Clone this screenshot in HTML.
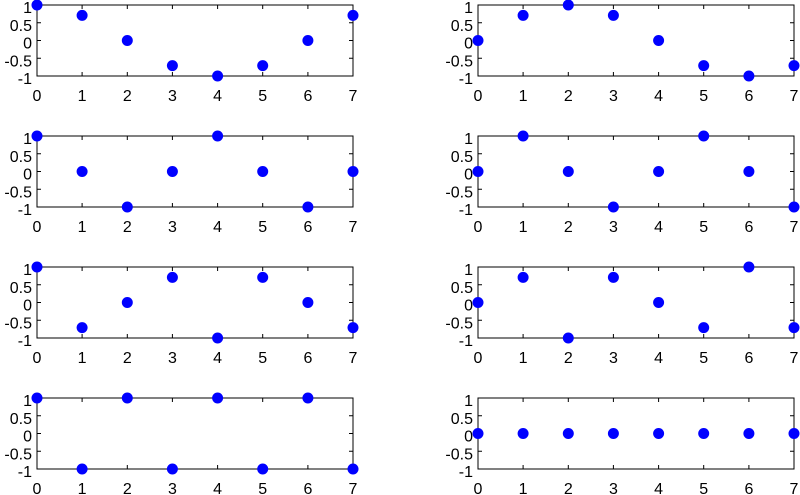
<!DOCTYPE html>
<html><head><meta charset="utf-8"><style>
html,body{margin:0;padding:0;background:#fff}
svg{display:block}
text{font-family:"Liberation Sans",sans-serif;font-size:16px;fill:#000}
.f{fill:none;stroke:#000;stroke-width:1}
.t{stroke:#000;stroke-width:1}
circle{fill:#0000ff}
</style></head><body>
<svg width="800" height="495" viewBox="0 0 800 495" xmlns="http://www.w3.org/2000/svg">

<g transform="translate(37,5)">
<rect class="f" x="0" y="0" width="316" height="71"/>
<path class="t" d="M45.1 71v-4M90.3 71v-4M135.4 71v-4M180.6 71v-4M225.7 71v-4M270.9 71v-4M45.1 0v4M90.3 0v4M135.4 0v4M180.6 0v4M225.7 0v4M270.9 0v4M0 17.75h4M0 35.5h4M0 53.25h4M316 17.75h-4M316 35.5h-4M316 53.25h-4"/>
<g text-anchor="end"><text x="-5" y="8">1</text><text x="-5" y="25.75">0.5</text><text x="-5" y="43.5">0</text><text x="-5" y="61.25">-0.5</text><text x="-5" y="79">-1</text></g>
<g text-anchor="middle"><text x="0" y="96">0</text><text x="45.1" y="96">1</text><text x="90.3" y="96">2</text><text x="135.4" y="96">3</text><text x="180.6" y="96">4</text><text x="225.7" y="96">5</text><text x="270.9" y="96">6</text><text x="316" y="96">7</text></g>
<circle cx="0" cy="0" r="5.5"/><circle cx="45.1" cy="10.4" r="5.5"/><circle cx="90.3" cy="35.5" r="5.5"/><circle cx="135.4" cy="60.6" r="5.5"/><circle cx="180.6" cy="71" r="5.5"/><circle cx="225.7" cy="60.6" r="5.5"/><circle cx="270.9" cy="35.5" r="5.5"/><circle cx="316" cy="10.4" r="5.5"/>
</g>

<g transform="translate(478,5)">
<rect class="f" x="0" y="0" width="316" height="71"/>
<path class="t" d="M45.1 71v-4M90.3 71v-4M135.4 71v-4M180.6 71v-4M225.7 71v-4M270.9 71v-4M45.1 0v4M90.3 0v4M135.4 0v4M180.6 0v4M225.7 0v4M270.9 0v4M0 17.75h4M0 35.5h4M0 53.25h4M316 17.75h-4M316 35.5h-4M316 53.25h-4"/>
<g text-anchor="end"><text x="-5" y="8">1</text><text x="-5" y="25.75">0.5</text><text x="-5" y="43.5">0</text><text x="-5" y="61.25">-0.5</text><text x="-5" y="79">-1</text></g>
<g text-anchor="middle"><text x="0" y="96">0</text><text x="45.1" y="96">1</text><text x="90.3" y="96">2</text><text x="135.4" y="96">3</text><text x="180.6" y="96">4</text><text x="225.7" y="96">5</text><text x="270.9" y="96">6</text><text x="316" y="96">7</text></g>
<circle cx="0" cy="35.5" r="5.5"/><circle cx="45.1" cy="10.4" r="5.5"/><circle cx="90.3" cy="0" r="5.5"/><circle cx="135.4" cy="10.4" r="5.5"/><circle cx="180.6" cy="35.5" r="5.5"/><circle cx="225.7" cy="60.6" r="5.5"/><circle cx="270.9" cy="71" r="5.5"/><circle cx="316" cy="60.6" r="5.5"/>
</g>

<g transform="translate(37,136)">
<rect class="f" x="0" y="0" width="316" height="71"/>
<path class="t" d="M45.1 71v-4M90.3 71v-4M135.4 71v-4M180.6 71v-4M225.7 71v-4M270.9 71v-4M45.1 0v4M90.3 0v4M135.4 0v4M180.6 0v4M225.7 0v4M270.9 0v4M0 17.75h4M0 35.5h4M0 53.25h4M316 17.75h-4M316 35.5h-4M316 53.25h-4"/>
<g text-anchor="end"><text x="-5" y="8">1</text><text x="-5" y="25.75">0.5</text><text x="-5" y="43.5">0</text><text x="-5" y="61.25">-0.5</text><text x="-5" y="79">-1</text></g>
<g text-anchor="middle"><text x="0" y="96">0</text><text x="45.1" y="96">1</text><text x="90.3" y="96">2</text><text x="135.4" y="96">3</text><text x="180.6" y="96">4</text><text x="225.7" y="96">5</text><text x="270.9" y="96">6</text><text x="316" y="96">7</text></g>
<circle cx="0" cy="0" r="5.5"/><circle cx="45.1" cy="35.5" r="5.5"/><circle cx="90.3" cy="71" r="5.5"/><circle cx="135.4" cy="35.5" r="5.5"/><circle cx="180.6" cy="0" r="5.5"/><circle cx="225.7" cy="35.5" r="5.5"/><circle cx="270.9" cy="71" r="5.5"/><circle cx="316" cy="35.5" r="5.5"/>
</g>

<g transform="translate(478,136)">
<rect class="f" x="0" y="0" width="316" height="71"/>
<path class="t" d="M45.1 71v-4M90.3 71v-4M135.4 71v-4M180.6 71v-4M225.7 71v-4M270.9 71v-4M45.1 0v4M90.3 0v4M135.4 0v4M180.6 0v4M225.7 0v4M270.9 0v4M0 17.75h4M0 35.5h4M0 53.25h4M316 17.75h-4M316 35.5h-4M316 53.25h-4"/>
<g text-anchor="end"><text x="-5" y="8">1</text><text x="-5" y="25.75">0.5</text><text x="-5" y="43.5">0</text><text x="-5" y="61.25">-0.5</text><text x="-5" y="79">-1</text></g>
<g text-anchor="middle"><text x="0" y="96">0</text><text x="45.1" y="96">1</text><text x="90.3" y="96">2</text><text x="135.4" y="96">3</text><text x="180.6" y="96">4</text><text x="225.7" y="96">5</text><text x="270.9" y="96">6</text><text x="316" y="96">7</text></g>
<circle cx="0" cy="35.5" r="5.5"/><circle cx="45.1" cy="0" r="5.5"/><circle cx="90.3" cy="35.5" r="5.5"/><circle cx="135.4" cy="71" r="5.5"/><circle cx="180.6" cy="35.5" r="5.5"/><circle cx="225.7" cy="0" r="5.5"/><circle cx="270.9" cy="35.5" r="5.5"/><circle cx="316" cy="71" r="5.5"/>
</g>

<g transform="translate(37,267)">
<rect class="f" x="0" y="0" width="316" height="71"/>
<path class="t" d="M45.1 71v-4M90.3 71v-4M135.4 71v-4M180.6 71v-4M225.7 71v-4M270.9 71v-4M45.1 0v4M90.3 0v4M135.4 0v4M180.6 0v4M225.7 0v4M270.9 0v4M0 17.75h4M0 35.5h4M0 53.25h4M316 17.75h-4M316 35.5h-4M316 53.25h-4"/>
<g text-anchor="end"><text x="-5" y="8">1</text><text x="-5" y="25.75">0.5</text><text x="-5" y="43.5">0</text><text x="-5" y="61.25">-0.5</text><text x="-5" y="79">-1</text></g>
<g text-anchor="middle"><text x="0" y="96">0</text><text x="45.1" y="96">1</text><text x="90.3" y="96">2</text><text x="135.4" y="96">3</text><text x="180.6" y="96">4</text><text x="225.7" y="96">5</text><text x="270.9" y="96">6</text><text x="316" y="96">7</text></g>
<circle cx="0" cy="0" r="5.5"/><circle cx="45.1" cy="60.6" r="5.5"/><circle cx="90.3" cy="35.5" r="5.5"/><circle cx="135.4" cy="10.4" r="5.5"/><circle cx="180.6" cy="71" r="5.5"/><circle cx="225.7" cy="10.4" r="5.5"/><circle cx="270.9" cy="35.5" r="5.5"/><circle cx="316" cy="60.6" r="5.5"/>
</g>

<g transform="translate(478,267)">
<rect class="f" x="0" y="0" width="316" height="71"/>
<path class="t" d="M45.1 71v-4M90.3 71v-4M135.4 71v-4M180.6 71v-4M225.7 71v-4M270.9 71v-4M45.1 0v4M90.3 0v4M135.4 0v4M180.6 0v4M225.7 0v4M270.9 0v4M0 17.75h4M0 35.5h4M0 53.25h4M316 17.75h-4M316 35.5h-4M316 53.25h-4"/>
<g text-anchor="end"><text x="-5" y="8">1</text><text x="-5" y="25.75">0.5</text><text x="-5" y="43.5">0</text><text x="-5" y="61.25">-0.5</text><text x="-5" y="79">-1</text></g>
<g text-anchor="middle"><text x="0" y="96">0</text><text x="45.1" y="96">1</text><text x="90.3" y="96">2</text><text x="135.4" y="96">3</text><text x="180.6" y="96">4</text><text x="225.7" y="96">5</text><text x="270.9" y="96">6</text><text x="316" y="96">7</text></g>
<circle cx="0" cy="35.5" r="5.5"/><circle cx="45.1" cy="10.4" r="5.5"/><circle cx="90.3" cy="71" r="5.5"/><circle cx="135.4" cy="10.4" r="5.5"/><circle cx="180.6" cy="35.5" r="5.5"/><circle cx="225.7" cy="60.6" r="5.5"/><circle cx="270.9" cy="0" r="5.5"/><circle cx="316" cy="60.6" r="5.5"/>
</g>

<g transform="translate(37,398)">
<rect class="f" x="0" y="0" width="316" height="71"/>
<path class="t" d="M45.1 71v-4M90.3 71v-4M135.4 71v-4M180.6 71v-4M225.7 71v-4M270.9 71v-4M45.1 0v4M90.3 0v4M135.4 0v4M180.6 0v4M225.7 0v4M270.9 0v4M0 17.75h4M0 35.5h4M0 53.25h4M316 17.75h-4M316 35.5h-4M316 53.25h-4"/>
<g text-anchor="end"><text x="-5" y="8">1</text><text x="-5" y="25.75">0.5</text><text x="-5" y="43.5">0</text><text x="-5" y="61.25">-0.5</text><text x="-5" y="79">-1</text></g>
<g text-anchor="middle"><text x="0" y="96">0</text><text x="45.1" y="96">1</text><text x="90.3" y="96">2</text><text x="135.4" y="96">3</text><text x="180.6" y="96">4</text><text x="225.7" y="96">5</text><text x="270.9" y="96">6</text><text x="316" y="96">7</text></g>
<circle cx="0" cy="0" r="5.5"/><circle cx="45.1" cy="71" r="5.5"/><circle cx="90.3" cy="0" r="5.5"/><circle cx="135.4" cy="71" r="5.5"/><circle cx="180.6" cy="0" r="5.5"/><circle cx="225.7" cy="71" r="5.5"/><circle cx="270.9" cy="0" r="5.5"/><circle cx="316" cy="71" r="5.5"/>
</g>

<g transform="translate(478,398)">
<rect class="f" x="0" y="0" width="316" height="71"/>
<path class="t" d="M45.1 71v-4M90.3 71v-4M135.4 71v-4M180.6 71v-4M225.7 71v-4M270.9 71v-4M45.1 0v4M90.3 0v4M135.4 0v4M180.6 0v4M225.7 0v4M270.9 0v4M0 17.75h4M0 35.5h4M0 53.25h4M316 17.75h-4M316 35.5h-4M316 53.25h-4"/>
<g text-anchor="end"><text x="-5" y="8">1</text><text x="-5" y="25.75">0.5</text><text x="-5" y="43.5">0</text><text x="-5" y="61.25">-0.5</text><text x="-5" y="79">-1</text></g>
<g text-anchor="middle"><text x="0" y="96">0</text><text x="45.1" y="96">1</text><text x="90.3" y="96">2</text><text x="135.4" y="96">3</text><text x="180.6" y="96">4</text><text x="225.7" y="96">5</text><text x="270.9" y="96">6</text><text x="316" y="96">7</text></g>
<circle cx="0" cy="35.5" r="5.5"/><circle cx="45.1" cy="35.5" r="5.5"/><circle cx="90.3" cy="35.5" r="5.5"/><circle cx="135.4" cy="35.5" r="5.5"/><circle cx="180.6" cy="35.5" r="5.5"/><circle cx="225.7" cy="35.5" r="5.5"/><circle cx="270.9" cy="35.5" r="5.5"/><circle cx="316" cy="35.5" r="5.5"/>
</g>
</svg>
</body></html>
